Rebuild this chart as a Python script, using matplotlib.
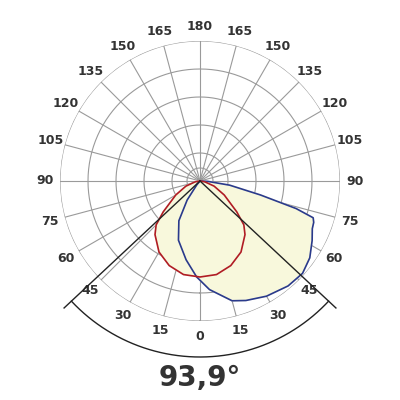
import matplotlib
matplotlib.use("Agg")
import matplotlib.pyplot as plt
import numpy as np

# candela curves, angle in degrees (0 = down, + = right), radius in chart units (outer ring = 140)
red_ang = [-90, -80, -70, -60, -50, -45, -40, -30, -20, -10, 0, 10, 20, 30, 40, 45, 50, 60, 70, 80, 90]
red_r   = [0, 5, 15, 28, 48, 62, 70, 82, 90, 95, 96, 95, 90, 82, 70, 62, 48, 28, 15, 5, 0]
blue_ang = [-45, -40, -34, -28, -20, -10, -2, 5, 15, 21, 30, 40, 48, 55, 62, 67, 70, 72, 74, 77, 82, 87, 90]
blue_r   = [0, 5, 23, 45, 63, 80, 96, 109, 124, 128, 133, 137, 138, 134, 127, 122, 121, 119, 100, 62, 30, 8, 0]
beam_angle = 93.9
label_angles = [0, 15, 30, 45, 60, 75, 90, 105, 120, 135, 150, 165, 180]
rings = [13, 28, 56, 84, 112, 140]

fig = plt.figure(figsize=(4, 4), dpi=100)
ax = fig.add_axes([60/400, 79/400, 280/400, 280/400], projection="polar")
ax.set_theta_zero_location("S")
ax.set_theta_direction(1)
ax.set_ylim(0, 140)
ax.grid(False)
ax.set_xticks([]); ax.set_yticks([])
ax.spines["polar"].set_visible(False)

gc = "#9a9a9a"
t = np.linspace(0, 2*np.pi, 361)
for r in rings:
    ax.plot(t, np.full_like(t, r), color=gc, lw=0.8)
for a in range(0, 360, 15):
    ax.plot([np.radians(a)]*2, [0, 140], color=gc, lw=0.8)

rt, bt = np.radians(red_ang), np.radians(blue_ang)
ax.fill(bt, blue_r, color="#f8f8dc", zorder=2)
ax.fill(rt, red_r, color="#f8f8dc", zorder=2)
ax.plot(bt, blue_r, color="#2a3a8c", lw=1.2, zorder=4)
ax.plot(rt, red_r, color="#b01c24", lw=1.2, zorder=4)

h = np.radians(beam_angle / 2)
for s in (-1, 1):
    ax.plot([0, s*h], [0, 186], color="#222222", lw=1.0, clip_on=False, zorder=5)
ta = np.linspace(-h, h, 200)
ax.plot(ta, np.full_like(ta, 176), color="#222222", lw=1.0, clip_on=False, zorder=5)

for a in label_angles:
    for s in ((1,) if a in (0, 180) else (-1, 1)):
        ax.text(np.radians(s*a), 155, str(a), ha="center", va="center",
                fontsize=9, fontweight="semibold", color="#333333", clip_on=False)

fig.text(0.5, 1 - 378/400, "93,9°", ha="center", va="center", fontsize=20,
         fontweight="bold", color="#333333")
fig.savefig("out.png", dpi=100, facecolor="white")
